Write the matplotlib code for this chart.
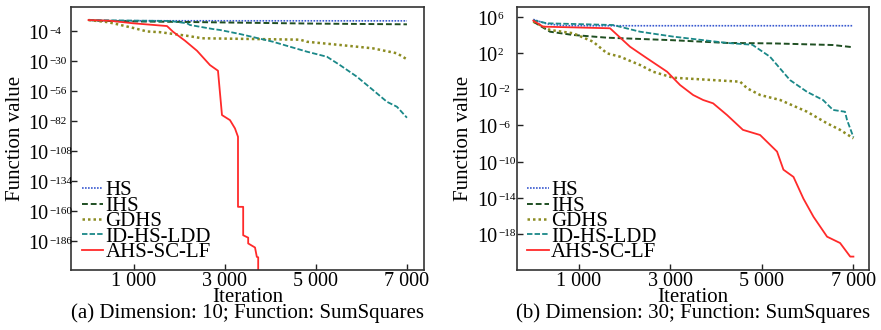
import matplotlib
matplotlib.use("Agg")
import matplotlib.pyplot as plt
import numpy as np
from matplotlib.ticker import FixedLocator, NullFormatter, NullLocator
from matplotlib.transforms import offset_copy

plt.rcParams['font.family'] = ['Liberation Serif', 'DejaVu Serif']

labels = ["HS", "IHS", "GDHS", "ID-HS-LDD", "AHS-SC-LF"]
colors = ["#3a5ad0", "#1f4f22", "#8c8c22", "#1a8888", "#ff2a2a"]
styles = [(0, (1, 0.8)), (0, (3, 1.5)), (0, (1, 1.2)), (0, (3, 1.2)), "-"]
widths = [1.2, 1.4, 1.8, 1.3, 1.3]

# ---- Panel (a): dimension 10 (values are log10 of function value) ----
a_hs_x = [0, 100, 300, 7000]
a_hs_y = [5.5, 5.2, 4.9, 4.8]
a_ihs_x = [0, 200, 500, 1000, 2000, 3000, 4000, 5000, 6000, 7000]
a_ihs_y = [5.5, 5.0, 4.6, 4.3, 3.9, 3.4, 2.9, 2.4, 2.1, 1.8]
a_gdhs_x = [0, 400, 541, 1000, 1286, 1570, 2160, 2500, 4650, 4800, 5530, 6250, 6780, 7000]
a_gdhs_y = [5.5, 3.8, 2.7, -1.5, -4.4, -5.0, -8.1, -10.3, -11.5, -13.3, -16.1, -19.0, -23.3, -28.5]
a_id_x = [0, 1000, 1790, 2165, 2231, 2736, 2890, 3330, 4055, 4802, 5242, 5527, 5901, 6253,
          6560, 6780, 7000]
a_id_y = [5.5, 5.0, 4.7, 2.7, 1.2, -2.3, -3.1, -6.6, -13.3, -21.9, -26.3, -33.5, -43.6, -55.1,
          -65.3, -69.6, -79.1]
a_ahs_x = [0, 473, 978, 1725, 1857, 2121, 2385, 2670, 2846, 2934, 3110, 3220, 3286,
           3286, 3400, 3400, 3510, 3510, 3660, 3700, 3730, 3730]
a_ahs_y = [5.5, 4.9, 2.7, 0.3, -4.6, -12.4, -21.1, -33.5, -38.4, -76.8, -81.2, -88.4, -95.6,
           -156.3, -156.3, -180.9, -183.0, -188.0, -191.5, -199.6, -200.0, -240.0]

# ---- Panel (b): dimension 30 ----
b_hs_x = [0, 300, 700, 7000]
b_hs_y = [5.7, 5.2, 5.0, 5.0]
b_ihs_x = [0, 366, 870, 1613, 3057, 4236, 5242, 6554, 7000]
b_ihs_y = [5.45, 4.34, 3.98, 3.68, 3.4, 3.1, 3.05, 2.87, 2.62]
b_gdhs_x = [0, 366, 870, 1307, 1613, 1897, 2335, 2619, 3057, 4523, 4676, 4960, 5397, 5987,
            6424, 6709, 7000]
b_gdhs_y = [5.45, 4.53, 4.17, 3.24, 1.95, 1.58, 0.66, -0.08, -0.74, -1.18, -1.91, -2.65,
            -3.2, -4.5, -5.78, -6.5, -7.44]
b_id_x = [0, 300, 1744, 2335, 3057, 4236, 4790, 5175, 5613, 5985, 6335, 6554, 6816, 6860, 6970, 7000]
b_id_y = [5.6, 5.27, 5.08, 4.34, 3.8, 3.1, 2.9, 1.58, -1.0, -2.3, -3.2, -4.3, -4.5, -5.4, -6.9, -7.3]
b_ahs_x = [0, 214, 1678, 2116, 2488, 2926, 3210, 3495, 3713, 3932, 4236, 4584, 4960, 5330,
           5470, 5690, 5907, 6127, 6424, 6709, 6930, 7000]
b_ahs_y = [5.56, 4.9, 4.72, 2.68, 1.4, -0.08, -1.55, -2.65, -3.2, -3.57, -4.86, -6.5, -7.07,
           -8.9, -10.9, -11.7, -14.1, -16.1, -18.3, -19.0, -20.5, -20.5]

a_ticks = [-4, -30, -56, -82, -108, -134, -160, -186]
b_ticks = [6, 2, -2, -6, -10, -14, -18]
x_ticks = [1000, 3000, 5000, 7000]
x_ticklabels = ["1 000", "3 000", "5 000", "7 000"]
captions = ["(a) Dimension: 10; Function: SumSquares", "(b) Dimension: 30; Function: SumSquares"]

panels = [
    ([(a_hs_x, a_hs_y), (a_ihs_x, a_ihs_y), (a_gdhs_x, a_gdhs_y), (a_id_x, a_id_y), (a_ahs_x, a_ahs_y)],
     a_ticks, (-211, 16.8), (-385, 7375), [71, 424], 28, 16),
    ([(b_hs_x, b_hs_y), (b_ihs_x, b_ihs_y), (b_gdhs_x, b_gdhs_y), (b_id_x, b_id_y), (b_ahs_x, b_ahs_y)],
     b_ticks, (-21.98, 7.07), (-363, 7341), [516.7, 869], 477, 464),
]

W, H = 881, 330
fig = plt.figure(figsize=(W / 100, H / 100), dpi=100)
FS = 15
TFS = 14.5
EFS = 8

for idx, (series, yt, ylim, xlim, xpx, tlx, ylx) in enumerate(panels):
    aw = xpx[1] - xpx[0]
    ax = fig.add_axes([xpx[0] / W, 1 - 270 / H, aw / W, (270 - 7) / H])
    for (xs, ys), lab, c, ls, lw in zip(series, labels, colors, styles, widths):
        ax.plot(xs, 10.0 ** np.array(ys, dtype=float), color=c, linestyle=ls, linewidth=lw, label=lab)
    ax.set_yscale('log')
    ax.set_ylim(10.0 ** ylim[0], 10.0 ** ylim[1])
    ax.set_xlim(*xlim)
    ax.yaxis.set_major_locator(FixedLocator([10.0 ** t for t in yt]))
    ax.yaxis.set_major_formatter(NullFormatter())
    ax.yaxis.set_minor_locator(NullLocator())
    ax.yaxis.set_minor_formatter(NullFormatter())
    ax.set_xticks(x_ticks)
    ax.set_xticklabels(x_ticklabels)
    ax.tick_params(direction='in', length=4, width=1.0, labelsize=TFS, color='#222222')
    ax.tick_params(axis='x', pad=1.5)
    for s in ax.spines.values():
        s.set_linewidth(1.2)
        s.set_color('#333333')
    # y tick labels: "10" with a small superscript exponent, left aligned
    xf = (tlx - xpx[0]) / aw
    base_tr = ax.get_yaxis_transform()
    tr10 = offset_copy(base_tr, fig=fig, x=0, y=-8, units='dots')
    trexp = offset_copy(base_tr, fig=fig, x=21, y=-2.5, units='dots')
    for t in yt:
        ax.text(xf, 10.0 ** t, "10", transform=tr10, ha='left', va='baseline',
                fontsize=TFS, clip_on=False)
        ax.text(xf, 10.0 ** t, str(t).replace('-', '\u2212'), transform=trexp, ha='left',
                va='baseline', fontsize=EFS, clip_on=False)
    ax.set_ylabel("Function value", fontsize=FS, va='center')
    ax.yaxis.set_label_coords((ylx - xpx[0]) / aw, 0.5)
    ax.legend(loc='lower left', bbox_to_anchor=(0.03, 0.03), borderaxespad=0, frameon=False,
              fontsize=FS, handlelength=1.05, handletextpad=0.1, labelspacing=-0.2,
              borderpad=0)
    cx = (xpx[0] + xpx[1]) / 2 / W
    fig.text(cx, 1 - 302 / H, "Iteration", ha='center', va='baseline', fontsize=FS)
    fig.text(cx, 1 - 318 / H, captions[idx], ha='center', va='baseline', fontsize=FS)

fig.savefig("out.png", dpi=100)
